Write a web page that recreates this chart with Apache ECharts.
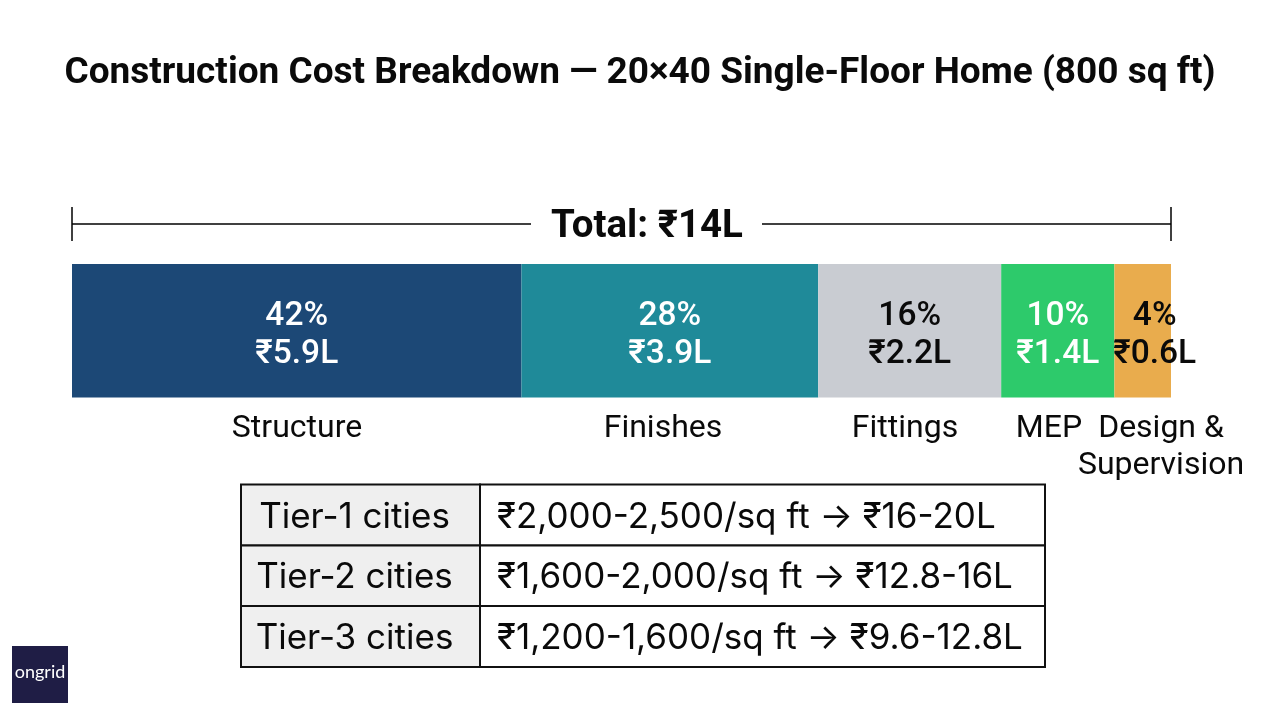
<!DOCTYPE html>
<html>
<head>
<meta charset="utf-8">
<title>Construction Cost Breakdown</title>
<script src="https://cdn.jsdelivr.net/npm/echarts@6/dist/echarts.min.js"></script>
<style>
  html, body { margin: 0; padding: 0; background: #fff; }
  #main { width: 1280px; height: 714px; }
</style>
</head>
<body>
<div id="main"></div>
<script>
// Chart data
const categories = ['Structure', 'Finishes', 'Fittings', 'MEP', 'Design &\nSupervision'];
// widths of the segments as drawn in the picture (share of the bar, in %)
const drawnShares = [40.9, 27.0, 16.65, 10.3, 5.15];
const percentLabels = ['42%', '28%', '16%', '10%', '4%'];
const amountLabels = ['₹5.9L', '₹3.9L', '₹2.2L', '₹1.4L', '₹0.6L'];
const totalLabel = 'Total: ₹14L';
const tierNames = ['Tier-1 cities', 'Tier-2 cities', 'Tier-3 cities'];
const tierRanges = [
  '₹2,000-2,500/sq ft → ₹16-20L',
  '₹1,600-2,000/sq ft → ₹12.8-16L',
  '₹1,200-1,600/sq ft → ₹9.6-12.8L'
];

// Styles
const segmentColors = ['#1c4876', '#1f8a99', '#c9ccd2', '#2dca6b', '#e9ac4d'];
const labelColors = ['#fff', '#fff', '#0a0a0a', '#fff', '#0a0a0a'];
const labelShift = [0, 0, 0, 0, 12];
const nameCenters = [297, 663, 905, 1049, 1161];
const FONT = 'Roboto, sans-serif';
const TABLE_FONT = 'Inter, sans-serif';

const chart = echarts.init(document.getElementById('main'));

const series = categories.map((name, i) => ({
  name: name,
  type: 'bar',
  stack: 'cost',
  barWidth: '100%',
  data: [drawnShares[i]],
  itemStyle: { color: segmentColors[i] },
  label: {
    show: true,
    position: 'inside',
    offset: [labelShift[i], 5],
    formatter: percentLabels[i] + '\n' + amountLabels[i],
    color: labelColors[i],
    fontFamily: FONT,
    fontSize: 33.5,
    fontWeight: 500,
    lineHeight: 38
  },
  z: 2 + i
}));

// bracket above the bar
const bracket = [
  [72, 224, 531, 224],
  [762, 224, 1171, 224],
  [72, 207, 72, 241],
  [1171, 207, 1171, 241]
].map(c => ({
  type: 'line',
  shape: { x1: c[0], y1: c[1], x2: c[2], y2: c[3] },
  style: { stroke: '#000', lineWidth: 1.5 }
}));

const nameTexts = categories.map((name, i) => ({
  type: 'text',
  x: nameCenters[i],
  y: 410,
  style: {
    text: name,
    fill: '#0a0a0a',
    font: '400 32px ' + FONT,
    lineHeight: 37,
    align: 'center',
    verticalAlign: 'top'
  }
}));

// lookup table
const TX0 = 241, TX1 = 480, TX2 = 1045;
const rowEdges = [484.5, 545.5, 606, 667];
const tableParts = [];
tierNames.forEach((tier, i) => {
  const y0 = rowEdges[i], y1 = rowEdges[i + 1];
  tableParts.push({
    type: 'rect',
    shape: { x: TX0, y: y0, width: TX1 - TX0, height: y1 - y0 },
    style: { fill: '#efefef', stroke: '#111', lineWidth: 2 }
  });
  tableParts.push({
    type: 'rect',
    shape: { x: TX1, y: y0, width: TX2 - TX1, height: y1 - y0 },
    style: { fill: '#fff', stroke: '#111', lineWidth: 2 }
  });
  tableParts.push({
    type: 'text',
    x: (TX0 + TX1) / 2 - 6,
    y: (y0 + y1) / 2 + 2,
    z: 5,
    style: { text: tier, fill: '#0a0a0a', font: '400 35px ' + TABLE_FONT, align: 'center', verticalAlign: 'middle' }
  });
  tableParts.push({
    type: 'text',
    x: 497,
    y: (y0 + y1) / 2 + 2,
    z: 5,
    style: { text: tierRanges[i], fill: '#0a0a0a', font: '400 35px ' + TABLE_FONT, align: 'left', verticalAlign: 'middle' }
  });
});

const logo = [
  { type: 'rect', shape: { x: 12, y: 646, width: 56, height: 57 }, style: { fill: '#1f1d45' } },
  {
    type: 'text', x: 40, y: 672, z: 5,
    style: { text: 'ongrid', fill: '#fff', font: '400 18px Lato, sans-serif', align: 'center', verticalAlign: 'middle' }
  }
];

const option = {
  animation: false,
  backgroundColor: '#fff',
  title: {
    text: 'Construction Cost Breakdown — 20×40 Single-Floor Home (800 sq ft)',
    left: 'center',
    top: 50,
    textStyle: { fontFamily: FONT, fontSize: 37, fontWeight: 700, color: '#0a0a0a' }
  },
  grid: { left: 72, top: 264, width: 1099, height: 133.5 },
  xAxis: { type: 'value', min: 0, max: 100, show: false },
  yAxis: { type: 'category', data: ['Cost'], show: false },
  series: series,
  graphic: [].concat(
    bracket,
    [{
      type: 'text',
      x: 647,
      y: 227,
      style: { text: totalLabel, fill: '#0a0a0a', font: '700 38.5px ' + FONT, align: 'center', verticalAlign: 'middle' }
    }],
    nameTexts,
    tableParts,
    logo
  )
};

chart.setOption(option);
</script>
</body>
</html>
